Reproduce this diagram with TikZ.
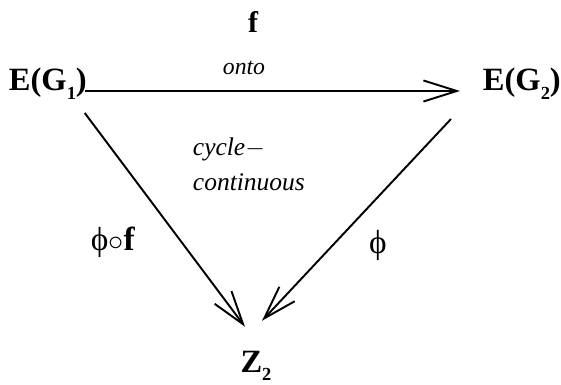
\documentclass[tikz,border=0pt]{standalone}
\usepackage{fontspec}
\setmainfont{Liberation Serif}
\usetikzlibrary{arrows.meta, calc}

% lowered index, as in the figure
\newcommand{\lowidx}[1]{\raisebox{-0.6ex}{\fontsize{10.5}{10}\selectfont #1}}

\begin{document}
\begin{tikzpicture}[x=0.02cm, y=-0.02cm, line width=1.1pt,
    >={Straight Barb[length=19pt, width=12pt]},
    big/.style={font=\fontsize{18.5}{20}\selectfont\bfseries, inner sep=0pt},
    note/.style={font=\fontsize{14.5}{20}\selectfont\itshape, inner sep=0pt},
    maplbl/.style={font=\fontsize{19}{20}\selectfont, inner sep=0pt}]
  \useasboundingbox (0,0) rectangle (561,385);

  % objects
  \node[big, anchor=base west] (E1) at (8,91) {E(G\lowidx{1})};
  \node[big, anchor=base west] (E2) at (482,91) {E(G\lowidx{2})};
  \node[big, anchor=base] (Z) at (256,372) {Z\lowidx{2}};

  % labels
  \node[big, font=\fontsize{17}{18}\selectfont\bfseries] (f) at (253,22) {f};
  \node[note, font=\fontsize{13.5}{20}\selectfont\itshape] (onto) at (244,68) {onto};
  \node[note, align=left, anchor=north west] (cc) at (192,137) {cycle$-$\\continuous};
  \node[maplbl] (pf) at (113,242) {ϕ$\circ$\textbf{f}};
  \node[maplbl] (p) at (378,245) {ϕ};

  % maps
  \draw[->] ($(E1.base east)+(-3,0)$) -- ($(E2.base west)+(-22,0)$);
  \draw[->] ($(E1.base east)+(-3,22)$) -- ($(Z.north)+(-11,-23)$);
  \draw[->] ($(E2.base west)+(-31,28)$) -- ($(Z.north)+(6,-29)$);
\end{tikzpicture}
\end{document}
